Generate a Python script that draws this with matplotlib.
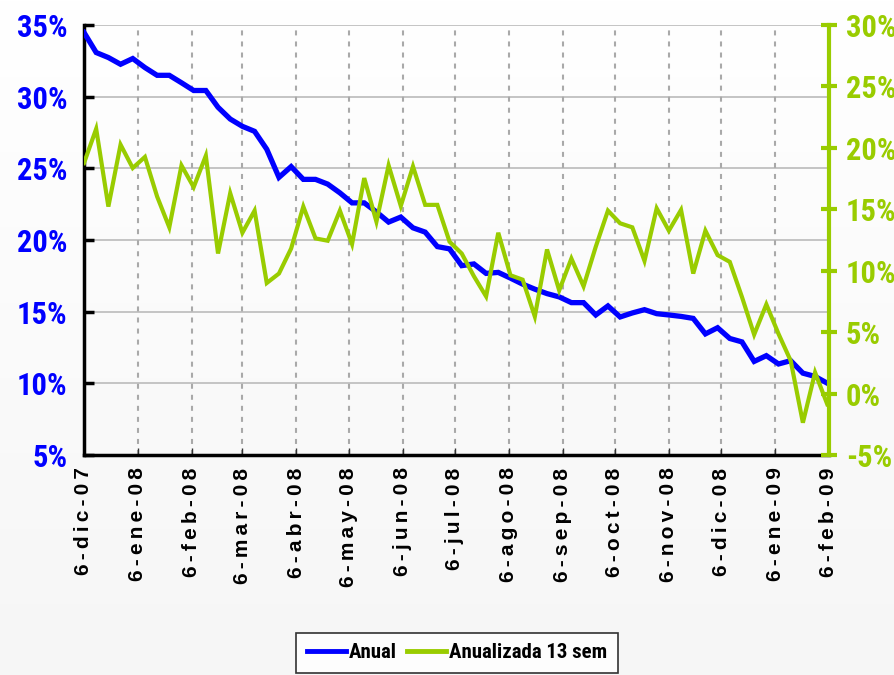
import numpy as np
import matplotlib
matplotlib.use("Agg")
import matplotlib.pyplot as plt
from matplotlib import font_manager

# ---------------- data ----------------
start_date = "2007-12-06"
n_weeks = 62

anual = [34.48, 33.08, 32.73, 32.26, 32.66, 32.03, 31.49, 31.49, 30.97, 30.43,
         30.43, 29.26, 28.44, 27.93, 27.58, 26.33, 24.37, 25.12, 24.23, 24.23,
         23.90, 23.29, 22.59, 22.59, 21.96, 21.25, 21.60, 20.85, 20.55, 19.54,
         19.38, 18.21, 18.33, 17.67, 17.74, 17.34, 16.92, 16.57, 16.26, 16.03,
         15.63, 15.63, 14.77, 15.40, 14.63, 14.91, 15.14, 14.86, 14.77, 14.67,
         14.53, 13.45, 13.88, 13.13, 12.89, 11.53, 11.93, 11.35, 11.58, 10.71,
         10.48, 10.01]

anualizada_13 = [18.76, 21.55, 15.22, 20.26, 18.36, 19.26, 16.04, 13.53, 18.57, 16.80,
                 19.36, 11.40, 16.31, 13.09, 14.89, 9.00, 9.77, 11.81, 15.22, 12.63,
                 12.44, 14.89, 12.17, 17.54, 13.99, 18.57, 15.27, 18.49, 15.36, 15.36,
                 12.36, 11.40, 9.55, 7.91, 13.09, 9.63, 9.27, 6.27, 11.73, 8.40,
                 10.99, 8.73, 11.95, 14.89, 13.86, 13.53, 10.80, 15.08, 13.26, 14.95,
                 9.77, 13.26, 11.27, 10.72, 7.86, 4.80, 7.26, 4.86, 2.67, -2.37,
                 1.72, -0.87]

tick_dates = ["2007-12-06", "2008-01-06", "2008-02-06", "2008-03-06", "2008-04-06",
              "2008-05-06", "2008-06-06", "2008-07-06", "2008-08-06", "2008-09-06",
              "2008-10-06", "2008-11-06", "2008-12-06", "2009-01-06", "2009-02-06"]
tick_labels = ["6-dic-07", "6-ene-08", "6-feb-08", "6-mar-08", "6-abr-08", "6-may-08",
               "6-jun-08", "6-jul-08", "6-ago-08", "6-sep-08", "6-oct-08", "6-nov-08",
               "6-dic-08", "6-ene-09", "6-feb-09"]

left_ticks = [5, 10, 15, 20, 25, 30, 35]
right_ticks = [-5, 0, 5, 10, 15, 20, 25, 30]
series_names = ["Anual", "Anualizada 13 sem"]

# ---------------- fonts ----------------
available = {f.name for f in font_manager.fontManager.ttflist}
def pick(cands):
    for c in cands:
        if c in available:
            return c
    return "DejaVu Sans"
narrow = pick(["Liberation Sans Narrow", "Arial Narrow", "Roboto Condensed",
               "DejaVu Sans Condensed", "Liberation Sans"])
regular = pick(["Liberation Sans", "Arimo", "DejaVu Sans"])

BLUE = "#0000ff"
GREEN = "#99cc00"

dates = np.datetime64(start_date) + np.arange(n_weeks) * np.timedelta64(7, "D")
dates = dates.astype("datetime64[D]").astype(object)
tdates = [np.datetime64(d).astype(object) for d in tick_dates]

fig = plt.figure(figsize=(8.95, 6.75), dpi=100)
# subtle background gradient
bg = fig.add_axes([0, 0, 1, 1], zorder=-10)
grad = np.linspace(1.0, 0.965, 256).reshape(-1, 1)
bg.imshow(np.dstack([grad, grad, grad]), aspect="auto", extent=[0, 1, 0, 1])
bg.axis("off")

ax = fig.add_axes([84 / 895, 1 - 455 / 675, (829 - 84) / 895, (455 - 25) / 675])
ax.patch.set_alpha(0)
ax2 = ax.twinx()

ax.plot(dates, anual, color=BLUE, lw=3.8, solid_joinstyle="miter", label=series_names[0], zorder=3)
ax2.plot(dates, anualizada_13, color=GREEN, lw=3.0, solid_joinstyle="miter", label=series_names[1], zorder=3)

ax.set_xlim(tdates[0], tdates[-1])
ax.set_ylim(5, 35)
ax2.set_ylim(-5, 30)

# grid
for v in left_ticks[1:]:
    ax.axhline(v, color="#c4c4c4", lw=1.4, zorder=1)
for d in tdates[1:-1]:
    ax.axvline(d, color="#a9a9a9", lw=1.5, ls=(0, (2.4, 2.9)), zorder=1)

ax.set_xticks(tdates)
sp = "\u2009"
ax.set_xticklabels([sp.join(list(t)) for t in tick_labels], rotation=90,
                   fontsize=15, fontweight="bold", family=[regular, "DejaVu Sans"])
ax.tick_params(axis="x", direction="in", length=5, width=1, color="#333333", pad=9)

ax.set_yticks(left_ticks)
ax.set_yticklabels([f"{v}%" for v in left_ticks], color=BLUE, fontsize=22,
                   fontweight="bold", family=narrow)
ax.tick_params(axis="y", direction="in", length=7, width=2.5, color="black", pad=12)

ax2.set_yticks(right_ticks)
ax2.set_yticklabels([f"{v}%" for v in right_ticks], color=GREEN, fontsize=22,
                    fontweight="bold", family=narrow)
ax2.tick_params(axis="y", direction="inout", length=12, width=3, color=GREEN, pad=6)

for a in (ax, ax2):
    a.spines["top"].set_visible(False)
ax.spines["right"].set_visible(False)
ax2.spines["left"].set_visible(False)
ax2.spines["bottom"].set_visible(False)
ax.spines["left"].set_linewidth(2.5)
ax.spines["bottom"].set_linewidth(2.5)
ax2.spines["right"].set_color(GREEN)
ax2.spines["right"].set_linewidth(3)

h1, l1 = ax.get_legend_handles_labels()
h2, l2 = ax2.get_legend_handles_labels()
leg = fig.legend(h1 + h2, l1 + l2, loc="upper center", bbox_to_anchor=(457 / 895, 1 - 633 / 675),
                 ncol=2, frameon=True, fancybox=False, edgecolor="black", facecolor="white",
                 prop={"family": narrow, "weight": "bold", "size": 15},
                 handlelength=1.9, handletextpad=0.15, columnspacing=0.45, borderpad=0.5,
                 borderaxespad=0)
leg.get_frame().set_linewidth(1.2)
for line in leg.get_lines():
    line.set_linewidth(3.5)

fig.savefig("out.png", dpi=100)
